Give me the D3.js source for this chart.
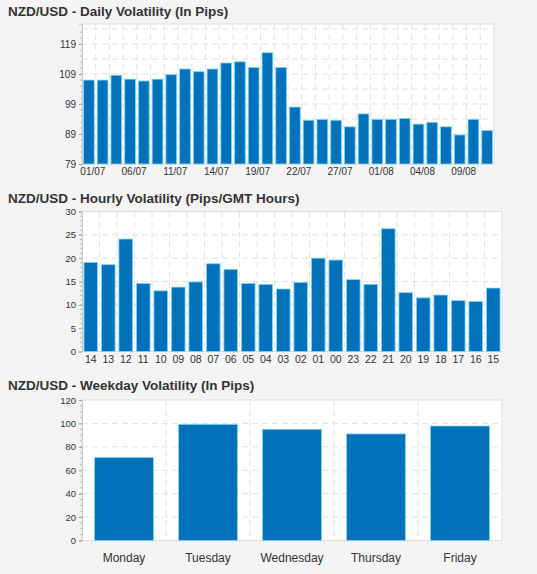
<!DOCTYPE html>
<html><head><meta charset="utf-8">
<script src="https://cdn.jsdelivr.net/npm/d3@7"></script>
<style>
body { margin:0; background:#f4f4f4; font-family:"Liberation Sans", Arial, sans-serif; }
</style></head>
<body><svg id="c" width="537" height="574"></svg>
<script>
const dailyDates = ['01/07','02/07','03/07','06/07','07/07','08/07','11/07','12/07','13/07','14/07','15/07','16/07','19/07','20/07','21/07','22/07','23/07','26/07','27/07','28/07','29/07','01/08','02/08','03/08','04/08','05/08','08/08','09/08','10/08','11/08'];
const dailyValues = [107,107,108.6,107.3,106.7,107.3,108.8,110.7,109.8,110.7,112.7,113.1,111.2,116.1,111.2,98,93.6,93.9,93.6,91.4,95.7,93.9,93.9,94.2,92.3,92.9,91.4,88.7,93.9,90.2];
const dailyTicks = [79,89,99,109,119];

const hours = ['14','13','12','11','10','09','08','07','06','05','04','03','02','01','00','23','22','21','20','19','18','17','16','15'];
const hourlyValues = [19.1,18.6,24.1,14.6,13,13.8,14.9,18.8,17.6,14.6,14.4,13.4,14.8,20,19.6,15.4,14.4,26.3,12.6,11.5,12.1,10.9,10.7,13.6];
const hourlyTicks = [0,5,10,15,20,25,30];

const weekdays = ['Monday','Tuesday','Wednesday','Thursday','Friday'];
const weekdayValues = [70.8,99.2,95,91,97.8];
const weekdayTicks = [0,20,40,60,80,100,120];

const svg = d3.select('#c');

function chart(o) {
  const g = svg.append('g');
  g.append('text').attr('x', 8).attr('y', o.titleY)
      .attr('font-size', 13.5).attr('font-weight', 'bold').attr('fill', '#333')
      .text(o.title);
  const x = d3.scaleBand().domain(o.cats).range([o.x0, o.x1]).paddingInner(o.pad).paddingOuter(o.pad / 2);
  const y = d3.scaleLinear().domain(o.domain).range([o.y1, o.y0]);
  g.append('rect').attr('x', o.x0).attr('y', o.y0).attr('width', o.x1 - o.x0).attr('height', o.y1 - o.y0)
      .attr('fill', '#fff').attr('stroke', '#ddd');
  // grid
  g.selectAll('.hg').data(o.grid).join('line')
      .attr('x1', o.x0).attr('x2', o.x1).attr('y1', d => y(d)).attr('y2', d => y(d))
      .attr('stroke', '#e2e2e2').attr('stroke-dasharray', '6,4');
  g.selectAll('.vg').data(o.cats.slice(1)).join('line')
      .attr('x1', d => x(d) - x.step() * x.paddingInner() / 2).attr('x2', d => x(d) - x.step() * x.paddingInner() / 2)
      .attr('y1', o.y0).attr('y2', o.y1)
      .attr('stroke', '#e2e2e2').attr('stroke-dasharray', '6,4');
  g.selectAll('.bar').data(o.values).join('rect')
      .attr('x', (d, i) => x(o.cats[i])).attr('width', x.bandwidth())
      .attr('y', d => y(d)).attr('height', d => o.y1 - y(d))
      .attr('fill', '#0072bc').attr('stroke', '#7fd6f0').attr('stroke-width', 0.8);
  const ya = g.append('g').attr('transform', `translate(${o.x0},0)`)
      .call(d3.axisLeft(y).tickValues(o.ticks).tickSize(3).tickPadding(3));
  ya.select('.domain').attr('stroke', '#ccc');
  ya.selectAll('.tick line').attr('stroke', '#999');
  ya.selectAll('text').attr('font-size', o.tickFont).attr('fill', '#333').attr('font-family', '"Liberation Sans", Arial, sans-serif');
  // minor ticks
  g.selectAll('.mt').data(o.minor).join('line')
      .attr('x1', o.x0 - 2).attr('x2', o.x0).attr('y1', d => y(d)).attr('y2', d => y(d)).attr('stroke', '#bbb');
  const xa = g.append('g').attr('transform', `translate(0,${o.y1})`)
      .call(d3.axisBottom(x).tickSize(0).tickPadding(o.xPad)
        .tickFormat((d, i) => i % o.every === 0 ? d : ''));
  xa.select('.domain').remove();
  xa.selectAll('text').attr('font-size', o.xFont).attr('fill', '#333').attr('font-family', '"Liberation Sans", Arial, sans-serif');
  if (o.shift) xa.selectAll('text').attr('dx', o.shift);
}

chart({ title: 'NZD/USD - Daily Volatility (In Pips)', titleY: 16, cats: dailyDates, values: dailyValues,
  domain: [79, 125.7], ticks: dailyTicks, grid: d3.range(84, 125, 5), minor: d3.range(81, 125, 2),
  x0: 82, x1: 494, y0: 24, y1: 164, pad: 0.22, every: 3, tickFont: 10, xFont: 10, xPad: 4, shift: 4 });

chart({ title: 'NZD/USD - Hourly Volatility (Pips/GMT Hours)', titleY: 203, cats: hours, values: hourlyValues,
  domain: [0, 30], ticks: hourlyTicks, grid: d3.range(5, 30, 5), minor: d3.range(0, 30, 1),
  x0: 82, x1: 502, y0: 211.5, y1: 351.5, pad: 0.22, every: 1, tickFont: 9.5, xFont: 10.5, xPad: 4 });

chart({ title: 'NZD/USD - Weekday Volatility (In Pips)', titleY: 390, cats: weekdays, values: weekdayValues,
  domain: [0, 120], ticks: weekdayTicks, grid: d3.range(20, 120, 20), minor: d3.range(0, 120, 5),
  x0: 82, x1: 502, y0: 400, y1: 540.5, pad: 0.3, every: 1, tickFont: 9.5, xFont: 12, xPad: 13 });
</script></body></html>
